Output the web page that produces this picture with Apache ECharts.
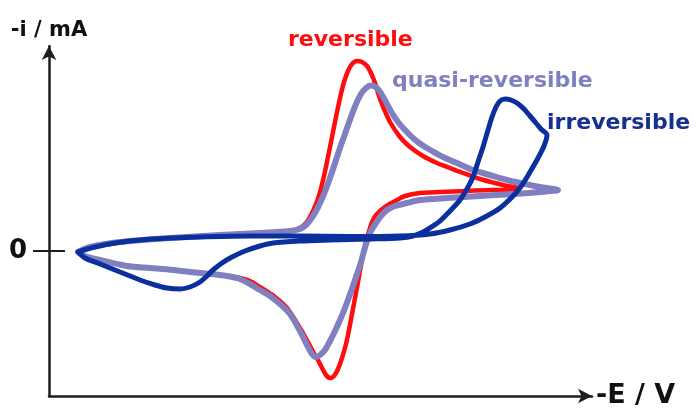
<!DOCTYPE html>
<html>
<head>
<meta charset="utf-8">
<script src="https://cdn.jsdelivr.net/npm/echarts@6/dist/echarts.min.js"></script>
<style>
  html, body { margin: 0; padding: 0; background: #ffffff; }
  #chart { width: 696px; height: 414px; }
</style>
</head>
<body>
<div id="chart"></div>
<script>
// Cyclic voltammograms: [-E, -i] pairs in arbitrary units, traced in scan order.
const reversible = [
  [29,-1],[41,4],[71,9],[121,13],[171,16],[211,18],[241,20],[251,23],[257,28],[262,36],
  [267,47],[271,59],[275,75],[279,94],[283,114],[287,134],[291,153],[295,169],[299,180],
  [303,187],[308,190],[313,189],[318,185],[322,178],[326,168],[330,155],[335,142],[341,129],
  [351,114],[361,104],[374,95],[388,88],[401,83],[414,78],[431,72],[446,68],[458,65],[469,63],
  [456,61],[441,61],[418,60],[391,59],[371,58],[356,55],[348,51],[339,46],[331,40],[325,33],
  [321,23],[318,13],[315,1],[312,-14],[309,-31],[306,-47],[303,-63],[300,-79],[297,-93],
  [293,-107],[289,-118],[285,-125],[281,-127],[277,-124],[273,-117],[269,-109],[266,-104],
  [260,-93],[251,-77],[238,-57],[226,-46],[211,-36],[201,-30],[191,-27],[181,-25],[171,-24],
  [151,-22],[124,-19],[101,-17],[78,-15],[51,-9],[36,-5],[29,-1]
];
const quasiReversible = [
  [29,-1],[41,4],[71,9],[121,13],[171,16],[211,18],[241,20],[251,22],[257,26],[262,32],
  [267,40],[272,50],[277,62],[282,76],[287,91],[292,106],[297,120],[302,134],[307,147],
  [312,157],[317,163],[322,165.5],[328,163],[333,156],[338,147],[343,138],[349,129],[356,121],
  [364,113],[373,106],[383,100],[394,94],[408,88],[424,81],[441,76],[458,71],[476,67],[491,64],
  [509,61],[491,59],[464,57],[431,55],[398,53],[371,51],[358,48],[346,45],[338,41],[332,35],
  [327,28],[322,20],[318,10],[315,0],[312,-11],[308,-23],[304,-35],[300,-46],[296,-57],
  [291,-69],[286,-80],[281,-90],[276,-99],[271,-104],[267,-106],[263,-103],[258,-94],[251,-80],
  [241,-63],[231,-53],[221,-45],[211,-39],[201,-33],[191,-28],[181,-25.5],[171,-24],[151,-22],
  [124,-19],[101,-17],[78,-15],[51,-9],[36,-5],[29,-1]
];
const irreversible = [
  [29,-1],[36,-7],[51,-13],[71,-21],[91,-29],[106,-34],[118,-37],[131,-38],[141,-36],
  [151,-31],[158,-25],[164,-19],[173,-12],[183,-6],[196,0],[211,5],[224,8],[251,10],
  [281,11],[321,12],[351,13],[364,15],[376,20],[384,25],[391,30],[401,40],[411,51],
  [419,64],[424,74],[429,89],[434,104],[439,121],[443,134],[447,144],[451,150],[456,152],
  [462,151],[468,148],[475,142],[481,135],[487,128],[492,122],[498,116],[495,105],[489,93],
  [481,79],[473,66],[465,56],[451,43],[436,34],[421,27],[401,21],[381,17],[351,15],
  [301,14.5],[251,15],[201,15],[151,14],[124,13],[91,11],[66,8],[46,4],[35,1],[29,-1]
];
const curveNames = ['reversible', 'quasi-reversible', 'irreversible'];
const zeroTick = [0];

const RED = '#ff0d0d';
const LAVENDER = '#8080c0';
const NAVY = '#0b2f9c';
const AXIS = '#1e1e1e';
const FONT = '"DejaVu Sans", sans-serif';

const chart = echarts.init(document.getElementById('chart'), null, { renderer: 'canvas' });

function curve(name, data, color, width, z) {
  return {
    name: name,
    type: 'line',
    data: data,
    showSymbol: false,
    smooth: 0.3,
    z: z,
    lineStyle: { color: color, width: width, cap: 'round', join: 'round' },
    emphasis: { disabled: true },
    animation: false
  };
}

const axisLineStyle = { color: AXIS, width: 2.5 };

chart.setOption({
  backgroundColor: '#ffffff',
  animation: false,
  grid: { left: 49, right: 104, top: 46, bottom: 18, containLabel: false },
  xAxis: {
    type: 'value', min: 0, max: 543,
    name: '-E / V', nameLocation: 'end', nameGap: 4,
    nameTextStyle: { fontFamily: FONT, fontWeight: 'bold', fontSize: 27, color: '#111', align: 'left', verticalAlign: 'middle' },
    axisLine: { show: true, onZero: false, symbol: ['none', 'arrow'], symbolSize: [11, 14], lineStyle: axisLineStyle },
    axisTick: { show: false }, axisLabel: { show: false }, splitLine: { show: false }
  },
  yAxis: [
    {
      type: 'value', min: -145, max: 205,
      name: '-i / mA', nameLocation: 'end', nameGap: 5,
      nameTextStyle: { fontFamily: FONT, fontWeight: 'bold', fontSize: 21, color: '#111', align: 'center' },
      axisLine: { show: true, onZero: false, symbol: ['none', 'arrow'], symbolSize: [11, 14], lineStyle: axisLineStyle },
      axisTick: { show: true, inside: false, length: 16, customValues: zeroTick, lineStyle: { color: AXIS, width: 2 } },
      axisLabel: { show: true, customValues: zeroTick, margin: 22, fontFamily: FONT, fontWeight: 'bold', fontSize: 26, color: '#111' },
      splitLine: { show: false }
    },
    {
      type: 'value', min: -145, max: 205, position: 'left',
      axisLine: { show: false, onZero: false },
      axisTick: { show: true, inside: true, length: 16, customValues: zeroTick, lineStyle: { color: AXIS, width: 2 } },
      axisLabel: { show: false }, splitLine: { show: false }
    }
  ],
  series: [
    curve(curveNames[0], reversible, RED, 4.5, 2),
    curve(curveNames[1], quasiReversible, LAVENDER, 6, 3),
    curve(curveNames[2], irreversible, NAVY, 5, 4)
  ],
  graphic: [
    { type: 'text', left: 288, top: 29, style: { text: curveNames[0], fill: RED, font: 'bold 22px ' + FONT } },
    { type: 'text', left: 392, top: 70, style: { text: curveNames[1], fill: LAVENDER, font: 'bold 22px ' + FONT } },
    { type: 'text', left: 547, top: 112, style: { text: curveNames[2], fill: '#16308f', font: 'bold 22px ' + FONT } }
  ]
});
</script>
</body>
</html>
